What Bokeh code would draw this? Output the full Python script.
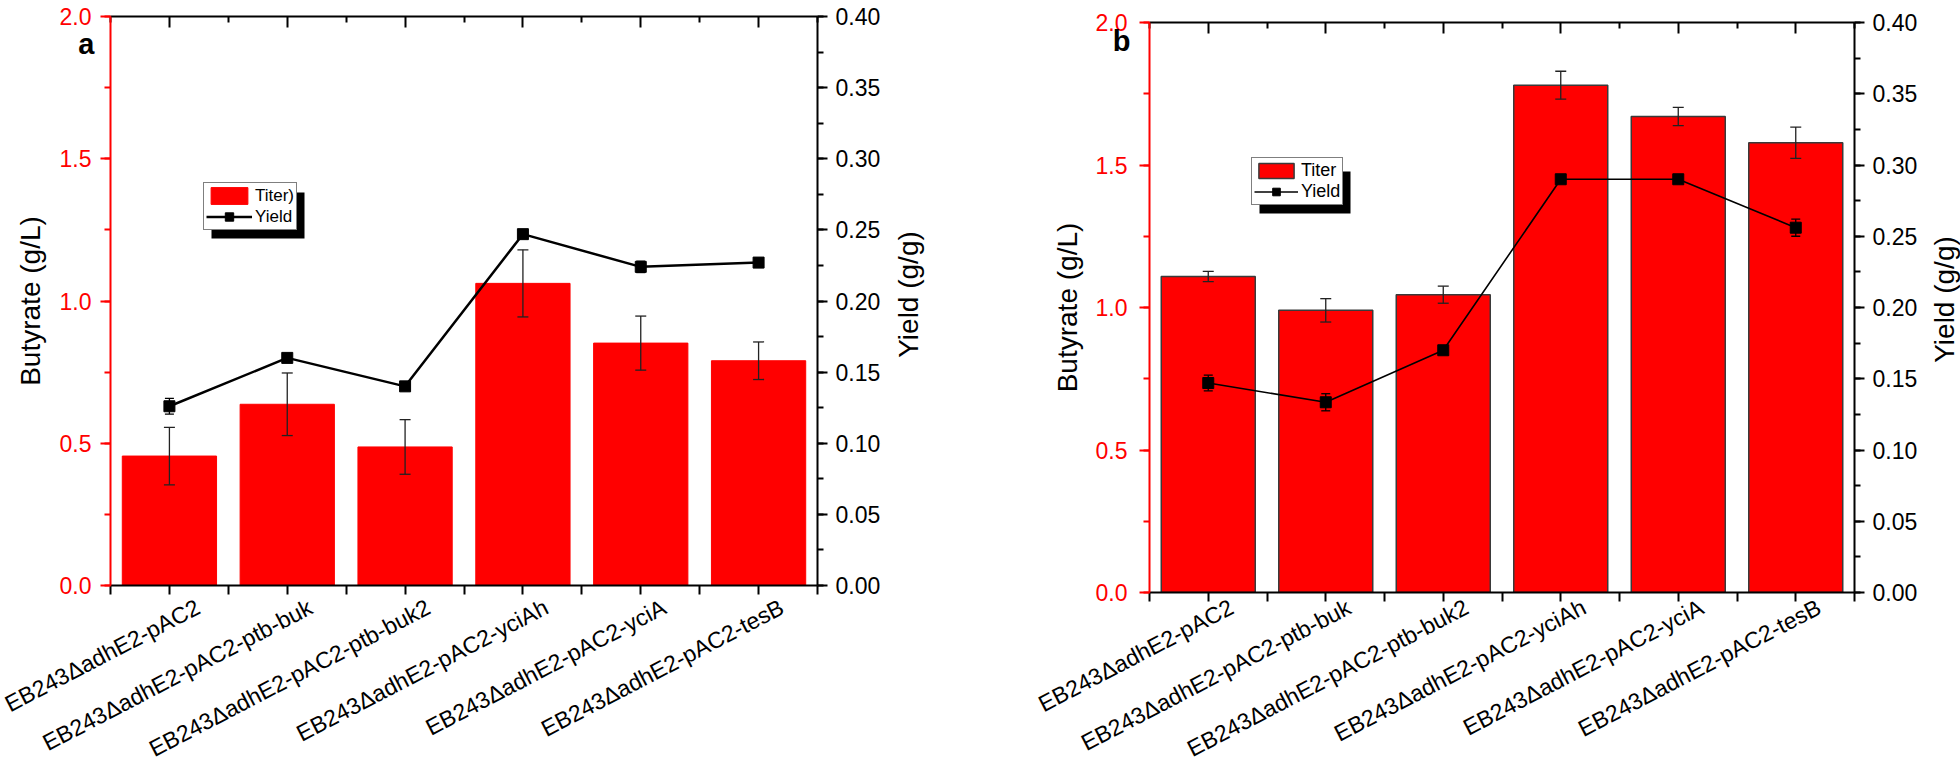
import math
from bokeh.plotting import figure
from bokeh.models import (ColumnDataSource, FactorRange, Range1d, LinearAxis, FixedTicker,
                          SingleIntervalTicker, NumeralTickFormatter, CustomJSTickFormatter,
                          Whisker, TeeHead, Legend, LegendItem, Label, BoxAnnotation)
from bokeh.layouts import row
from bokeh.embed import file_html
from bokeh.resources import INLINE

# ---------------- data ----------------
strains = ["EB243ΔadhE2-pAC2", "EB243ΔadhE2-pAC2-ptb-buk", "EB243ΔadhE2-pAC2-ptb-buk2",
           "EB243ΔadhE2-pAC2-yciAh", "EB243ΔadhE2-pAC2-yciA", "EB243ΔadhE2-pAC2-tesB"]

titer_a = [0.455, 0.637, 0.487, 1.062, 0.852, 0.790]
titer_err_a = [0.101, 0.110, 0.096, 0.118, 0.095, 0.066]
yield_a = [0.126, 0.160, 0.140, 0.247, 0.224, 0.227]
yield_err_a = [0.0055, 0.002, 0.002, 0.002, 0.004, 0.003]

titer_b = [1.109, 0.990, 1.045, 1.780, 1.670, 1.578]
titer_err_b = [0.018, 0.041, 0.030, 0.049, 0.032, 0.055]
yield_b = [0.147, 0.1335, 0.170, 0.290, 0.290, 0.256]
yield_err_b = [0.0055, 0.006, 0.002, 0.0, 0.0, 0.006]

legend_titer_a = "Titer)"
legend_titer_b = "Titer"
legend_yield = "Yield"
left_title = "Butyrate (g/L)"
right_title = "Yield (g/g)"

FONT = "Liberation Sans"
RED = "#FF0000"
LABEL_SHIFT = 0.2   # category labels sit a little right of their tick, as in the original


def style_ticks(ax, out_major, out_minor, in_major=0, in_minor=0):
    ax.major_tick_out = out_major
    ax.minor_tick_out = out_minor
    ax.major_tick_in = in_major
    ax.minor_tick_in = in_minor
    ax.axis_line_width = 2
    ax.major_tick_line_width = 2
    ax.minor_tick_line_width = 2


def make_panel(letter, titer, terr, yld, yerr, titer_label, geo):
    src = ColumnDataSource(dict(
        strain=strains, titer=titer,
        t_up=[t + e for t, e in zip(titer, terr)],
        t_lo=[t - e for t, e in zip(titer, terr)],
        yld=yld,
        y_up=[y + e for y, e in zip(yld, yerr)],
        y_lo=[y - e for y, e in zip(yld, yerr)],
    ))
    p = figure(x_range=FactorRange(*strains), y_range=Range1d(0, 2),
               width=geo["W"], height=778, output_backend="svg", toolbar_location=None,
               x_axis_location=None, y_axis_location=None,
               min_border_left=geo["L"], min_border_right=geo["R"],
               min_border_top=geo["T"], min_border_bottom=geo["B"])
    try:
        p.frame_align = False
    except Exception:
        pass
    p.outline_line_color = None
    p.xgrid.visible = False
    p.ygrid.visible = False
    p.extra_y_ranges = {"yield": Range1d(0, 0.4)}

    centers = [i + 0.5 for i in range(len(strains))]
    bounds = [float(i) for i in range(len(strains) + 1)]

    # bottom axis: visible ticks as minor ticks, labels carried by (hidden) major ticks
    bottom = LinearAxis(ticker=FixedTicker(ticks=[c + LABEL_SHIFT for c in centers],
                                           minor_ticks=sorted(centers + bounds)),
                        formatter=CustomJSTickFormatter(args=dict(labels=strains),
                                                        code="return labels[Math.floor(tick)] || '';"))
    style_ticks(bottom, 11, 9)
    bottom.major_tick_line_color = None
    bottom.major_label_orientation = 0.48
    bottom.major_label_text_font = FONT
    bottom.major_label_text_font_size = "23px"
    bottom.major_label_text_color = "black"
    bottom.major_label_standoff = geo["xstand"]
    p.add_layout(bottom, "below")

    # top axis (ticks only)
    top = LinearAxis(ticker=FixedTicker(ticks=centers, minor_ticks=bounds),
                     formatter=CustomJSTickFormatter(code="return '';"))
    style_ticks(top, 0, 0, 11, 6)
    top.major_label_standoff = 0
    top.major_label_text_font_size = "1px"
    p.add_layout(top, "above")

    # left axis
    left = LinearAxis(ticker=SingleIntervalTicker(interval=0.5, num_minor_ticks=2),
                      formatter=NumeralTickFormatter(format="0.0"), axis_label=left_title)
    style_ticks(left, 10, 6)
    left.axis_line_color = RED
    left.major_tick_line_color = RED
    left.minor_tick_line_color = RED
    left.major_label_text_color = RED
    left.major_label_text_font = FONT
    left.major_label_text_font_size = "23px"
    left.major_label_standoff = geo["lstand"]
    left.axis_label_text_font = FONT
    left.axis_label_text_font_size = "28px"
    left.axis_label_text_font_style = "normal"
    left.axis_label_text_color = "black"
    left.axis_label_standoff = geo["ltstand"]
    p.add_layout(left, "left")

    # right axis
    right = LinearAxis(y_range_name="yield",
                       ticker=SingleIntervalTicker(interval=0.05, num_minor_ticks=2),
                       formatter=NumeralTickFormatter(format="0.00"))
    style_ticks(right, 10, 6)
    right.major_label_text_font = FONT
    right.major_label_text_font_size = "23px"
    right.major_label_text_color = "black"
    right.major_label_standoff = 8
    p.add_layout(right, "right")

    # bars
    bars = p.vbar(x="strain", top="titer", width=0.8, source=src,
                  fill_color=RED, line_color=geo["bar_line"], line_width=geo["bar_lw"])
    w1 = Whisker(base="strain", upper="t_up", lower="t_lo", source=src,
                 line_color="#222222", line_width=1.3, level="annotation",
                 upper_head=TeeHead(size=11, line_color="#222222", line_width=1.3),
                 lower_head=TeeHead(size=11, line_color="#222222", line_width=1.3))
    p.add_layout(w1)

    # yield line
    ln = p.line(x="strain", y="yld", source=src, y_range_name="yield",
                line_color="black", line_width=geo["ylw"])
    mk = p.scatter(x="strain", y="yld", source=src, y_range_name="yield",
                   marker="square", size=11, fill_color="black", line_color="black")
    w2 = Whisker(base="strain", upper="y_up", lower="y_lo", source=src, y_range_name="yield",
                 line_color="black", line_width=1.3, level="annotation",
                 upper_head=TeeHead(size=9, line_color="black", line_width=1.3),
                 lower_head=TeeHead(size=9, line_color="black", line_width=1.3))
    p.add_layout(w2)

    # legend with drop shadow
    lx, ly = geo["leg"]
    lw, lh = geo["legsize"]
    p.add_layout(BoxAnnotation(left=lx + 8, right=lx + 8 + lw, bottom=ly - 8, top=ly - 8 + lh,
                               left_units="screen", right_units="screen",
                               bottom_units="screen", top_units="screen",
                               fill_color="black", fill_alpha=1.0, line_color=None,
                               level="annotation"))
    main = Legend(items=[LegendItem(label=titer_label, renderers=[bars]),
                         LegendItem(label=legend_yield, renderers=[ln, mk])],
                  location=(lx, ly), background_fill_color="white", background_fill_alpha=1.0,
                  glyph_width=geo["gw"], glyph_height=geo["rowh"], label_height=geo["rowh"],
                  label_standoff=3, padding=2, spacing=0, margin=0,
                  label_text_font=FONT, label_text_font_size=geo["lfs"],
                  label_text_color="black",
                  border_line_color="black", border_line_width=1)
    p.add_layout(main)

    # right axis title, in the right side panel, reading bottom-to-top
    p.add_layout(Label(x=geo["rt"][0], y=geo["rt"][1], x_units="screen", y_units="screen",
                       text=right_title, angle=math.pi / 2, text_align="center",
                       text_baseline="middle", text_font=FONT, text_font_size="28px",
                       text_color="black"), "right")
    # panel letter, placed in a side panel (outside the frame)
    p.add_layout(Label(x=geo["letter"][0], y=geo["letter"][1], x_units="screen", y_units="screen",
                       text=letter, text_font=FONT, text_font_size="29px",
                       text_font_style="bold", text_color="black", text_align="right",
                       text_baseline="alphabetic"), geo["letter_side"])
    return p


geo_a = dict(W=1000, L=110, R=183, T=16, B=193, leg=(93, 355), legsize=(93, 46),
             letter=(-820, 542), letter_side="right", rt=(25, 291), xstand=9,
             bar_line=RED, bar_lw=1, ylw=2.5, gw=46, rowh=21, lfs="17px", lstand=9, ltstand=11)
geo_b = dict(W=960, L=149, R=106, T=22, B=186, leg=(102, 387), legsize=(91, 42),
             letter=(100, 552), letter_side="left", rt=(24, 293), xstand=2,
             bar_line="#3a3a3a", bar_lw=1.5, ylw=1.6, gw=44, rowh=19, lfs="18px", lstand=12, ltstand=10)

pa = make_panel("a", titer_a, titer_err_a, yield_a, yield_err_a, legend_titer_a, geo_a)
pb = make_panel("b", titer_b, titer_err_b, yield_b, yield_err_b, legend_titer_b, geo_b)

layout = row(pa, pb)
open("out.html", "w").write(file_html(layout, INLINE))
